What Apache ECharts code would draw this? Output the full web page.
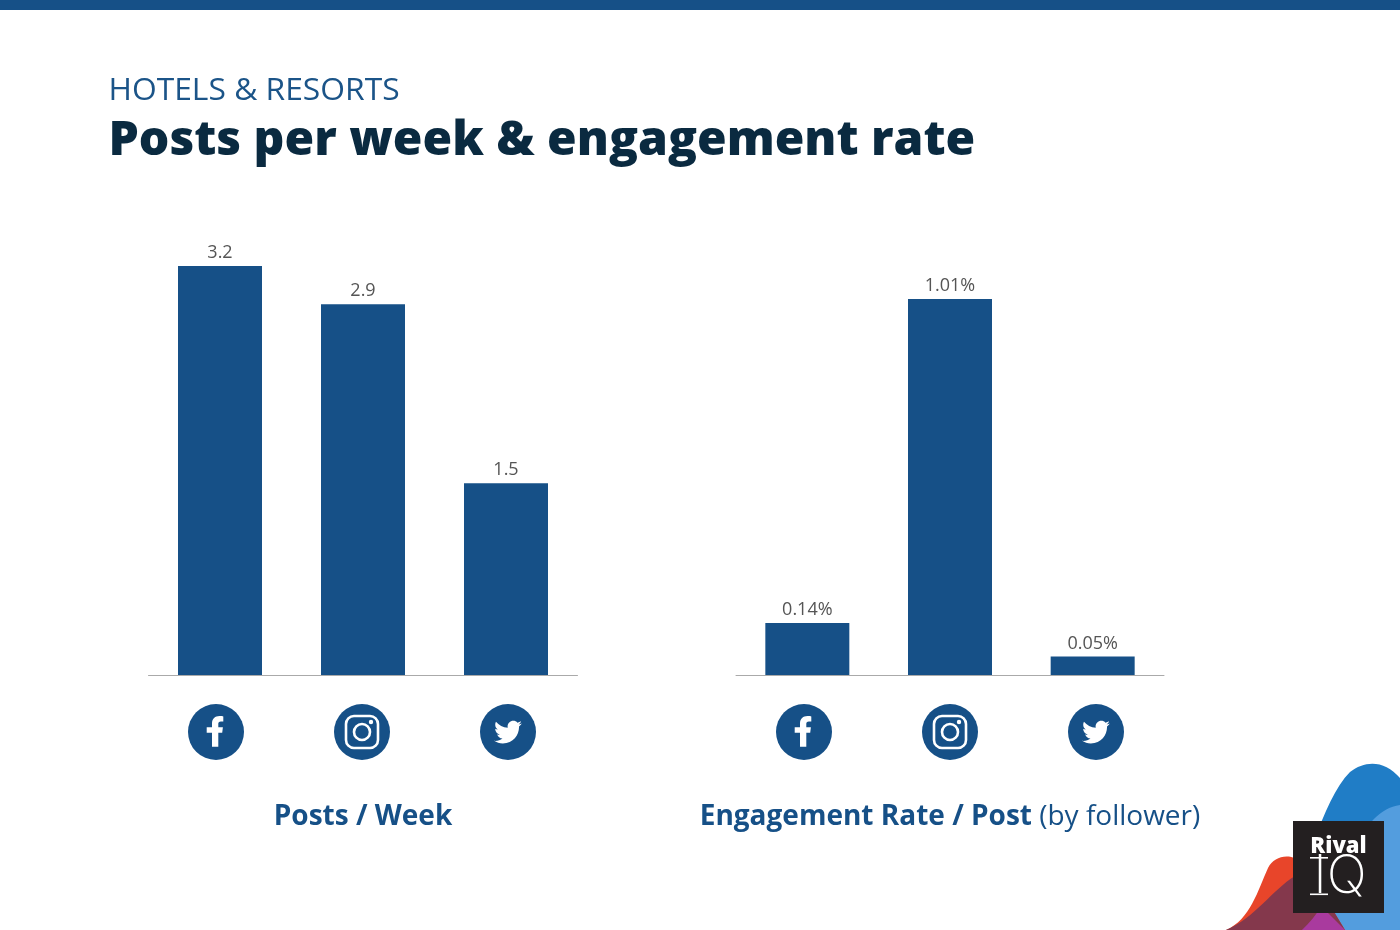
<!DOCTYPE html>
<html>
<head>
<meta charset="utf-8">
<style>html,body{margin:0;padding:0;background:#fff}#chart{width:1400px;height:930px}</style>
<script src="https://cdn.jsdelivr.net/npm/echarts@6/dist/echarts.min.js"></script>
</head>
<body>
<div id="chart"></div>
<script>
var networks = ['Facebook', 'Instagram', 'Twitter'];
var postsPerWeek = [3.2, 2.9, 1.5];
var engagementRate = [0.14, 1.01, 0.05];

var blue = '#165087';
var font = '"Open Sans", sans-serif';

// the graphic component has no plain svg path type, so register each one
function regPath(name, d) {
  echarts.graphic.registerShape(name, echarts.graphic.extendPath(d, {}));
  return name;
}

// icon paths are drawn around the circle centre
var fbShape = regPath('fbIcon', 'M-4,14.7 L2.3,14.7 L2.3,0.7 L6.2,0.7 L6.9,-4.7 L2.3,-4.7 L2.3,-8 C2.3,-9.6 2.9,-10.6 4.9,-10.6 L7.3,-10.6 L7.3,-15.6 C6.6,-15.8 5.5,-16 3.5,-16 C-0.9,-16 -4,-13.2 -4,-8.8 L-4,-4.7 L-9.3,-4.7 L-9.3,0.7 L-4,0.7 Z');
var birdShape = regPath('birdIcon', 'M22.46,6C21.69,6.35 20.86,6.58 20,6.69C20.88,6.16 21.56,5.32 21.88,4.31C21.05,4.81 20.13,5.16 19.16,5.36C18.37,4.5 17.26,4 16,4C13.65,4 11.73,5.92 11.73,8.29C11.73,8.63 11.77,8.96 11.84,9.27C8.28,9.09 5.11,7.38 3,4.79C2.63,5.42 2.42,6.16 2.42,6.94C2.42,8.43 3.17,9.75 4.33,10.5C3.62,10.5 2.96,10.3 2.38,10C2.38,10 2.38,10 2.38,10.03C2.38,12.11 3.86,13.85 5.82,14.24C5.46,14.34 5.08,14.39 4.69,14.39C4.42,14.39 4.15,14.36 3.89,14.31C4.43,16 6,17.26 7.89,17.29C6.43,18.45 4.58,19.13 2.56,19.13C2.22,19.13 1.88,19.11 1.54,19.07C3.44,20.29 5.7,21 8.12,21C16,21 20.33,14.46 20.33,8.79C20.33,8.6 20.33,8.42 20.32,8.23C21.16,7.63 21.88,6.87 22.46,6Z');
var blobBlue = regPath('blobBlue', 'M1288,930 C1302,880 1322,800 1350,772 C1365,760 1385,760 1400,778 L1400,930 Z');
var blobLight = regPath('blobLight', 'M1400,805 C1380,808 1365,825 1355,850 C1345,875 1330,900 1322,930 L1400,930 Z');
var blobRed = regPath('blobRed', 'M1226,930 C1250,920 1258,890 1268,868 C1275,855 1292,852 1305,865 L1345,930 Z');
var blobMaroon = regPath('blobMaroon', 'M1226,930 C1255,918 1272,890 1295,876 L1330,905 L1345,930 Z');
var blobPurple = regPath('blobPurple', 'M1302,930 C1310,922 1316,915 1320,908 L1327,912 L1345,930 Z');

function iconRow(cx) {
  var cy = 732;
  var white = { fill: '#fff' };
  var ring = { fill: 'none', stroke: '#fff', lineWidth: 2.6 };
  return [
    { type: 'circle', shape: { cx: cx - 146, cy: cy, r: 28 }, style: { fill: blue } },
    { type: fbShape, x: cx - 146, y: cy, style: white },
    { type: 'circle', shape: { cx: cx, cy: cy, r: 28 }, style: { fill: blue } },
    { type: 'rect', shape: { x: cx - 16, y: cy - 16, width: 32, height: 32, r: 8 }, style: ring },
    { type: 'circle', shape: { cx: cx, cy: cy, r: 8 }, style: ring },
    { type: 'circle', shape: { cx: cx + 9, cy: cy - 10, r: 2.2 }, style: white },
    { type: 'circle', shape: { cx: cx + 146, cy: cy, r: 28 }, style: { fill: blue } },
    { type: birdShape, x: cx + 146 - 16, y: cy - 16.5, scaleX: 1.33, scaleY: 1.33, style: white }
  ];
}

function logo() {
  return [
    { type: blobBlue, style: { fill: '#207dc6' } },
    { type: blobLight, style: { fill: '#539dde' } },
    { type: blobRed, style: { fill: '#e8452a' } },
    { type: blobMaroon, style: { fill: '#84384c' } },
    { type: blobPurple, style: { fill: '#a93a9e' } },
    { type: 'rect', shape: { x: 1293, y: 821, width: 91, height: 92 }, style: { fill: '#231f20' } },
    { type: 'text', x: 1338.5, y: 847, style: { text: 'Rival', fill: '#fff', font: '800 22px ' + font, align: 'center', verticalAlign: 'middle' } },
    { type: 'text', x: 1340, y: 877, style: { text: 'IQ', fill: '#fff', font: '200 53px Inter, sans-serif', align: 'center', verticalAlign: 'middle' } },
    // slabs on the I of the wordmark
    { type: 'rect', shape: { x: 1310, y: 857, width: 18, height: 1.6 }, style: { fill: '#fff' } },
    { type: 'rect', shape: { x: 1310, y: 893.5, width: 18, height: 1.6 }, style: { fill: '#fff' } }
  ];
}

function barSeries(index, values, suffix) {
  return {
    type: 'bar',
    xAxisIndex: index,
    yAxisIndex: index,
    data: values,
    barWidth: 84,
    itemStyle: { color: blue },
    label: {
      show: true,
      position: 'top',
      distance: 4,
      color: '#555',
      fontFamily: font,
      fontSize: 18,
      formatter: function (p) { return p.value + suffix; }
    }
  };
}

function categoryAxis(index, name) {
  return {
    type: 'category',
    gridIndex: index,
    data: networks,
    axisTick: { show: false },
    axisLabel: { show: false },
    axisLine: { lineStyle: { color: '#aaa', width: 1 } },
    name: name,
    nameLocation: 'middle',
    nameGap: 128.5,
    nameTextStyle: {
      rich: {
        b: { fontFamily: font, fontSize: 28, fontWeight: 700, color: blue },
        r: { fontFamily: font, fontSize: 28, fontWeight: 400, color: blue }
      }
    }
  };
}

var myChart = echarts.init(document.getElementById('chart'));
myChart.setOption({
  animation: false,
  backgroundColor: '#fff',
  grid: [
    { left: 148.5, width: 429, top: 266, height: 409 },
    { left: 736, width: 428, top: 299, height: 376 }
  ],
  xAxis: [
    categoryAxis(0, '{b|Posts / Week}'),
    categoryAxis(1, '{b|Engagement Rate / Post}{r| (by follower)}')
  ],
  yAxis: [
    { type: 'value', gridIndex: 0, min: 0, max: 3.2, show: false },
    { type: 'value', gridIndex: 1, min: 0, max: 1.01, show: false }
  ],
  series: [
    barSeries(0, postsPerWeek, ''),
    barSeries(1, engagementRate, '%')
  ],
  graphic: [
    { type: 'rect', shape: { x: 0, y: 0, width: 1400, height: 10 }, style: { fill: blue } },
    { type: 'text', x: 108.5, y: 91, style: { text: 'HOTELS & RESORTS', fill: '#1b5488', font: '400 31.8px ' + font, verticalAlign: 'middle' } },
    { type: 'text', x: 108.5, y: 141, style: { text: 'Posts per week & engagement rate', fill: '#0a2a40', font: '800 48px ' + font, verticalAlign: 'middle' } }
  ].concat(iconRow(362), iconRow(950), logo())
});
</script>
</body>
</html>
